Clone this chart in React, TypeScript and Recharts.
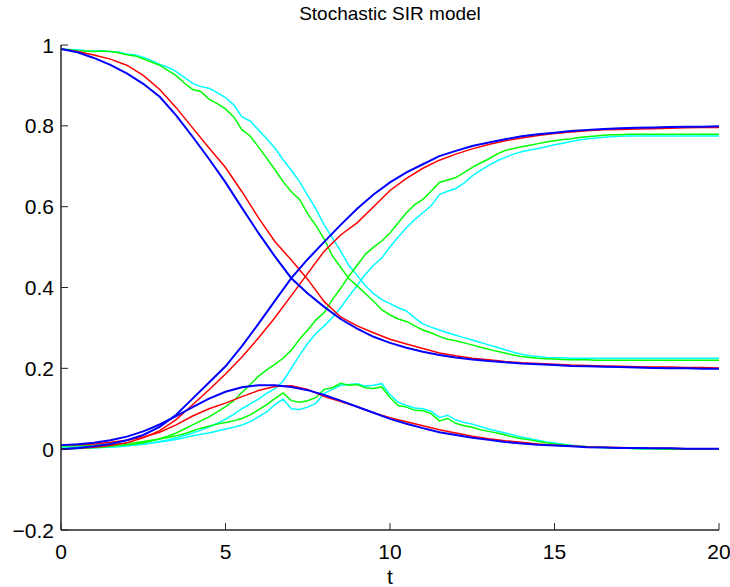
import React from "react";
import { LineChart, Line, XAxis, YAxis } from "recharts";

const TITLE = "Stochastic SIR model";
const X_LABEL = "t";
const X_TICKS = [0, 5, 10, 15, 20];
const Y_TICKS = [-0.2, 0, 0.2, 0.4, 0.6, 0.8, 1];

const T_COARSE = [0, 0.5, 1, 1.5, 2, 2.5, 3, 3.5, 4, 4.5, 5, 5.5, 6, 6.5, 7, 7.5, 8, 8.5, 9, 9.5, 10, 10.5, 11, 11.5, 12, 12.5, 13, 13.5, 14, 14.5, 15, 15.5, 16, 16.5, 17, 17.5, 18, 18.5, 19, 19.5, 20];
const T_FINE = [0, 0.25, 0.5, 0.75, 1, 1.25, 1.5, 1.75, 2, 2.25, 2.5, 2.75, 3, 3.25, 3.5, 3.75, 4, 4.25, 4.5, 4.75, 5, 5.25, 5.5, 5.75, 6, 6.25, 6.5, 6.75, 7, 7.25, 7.5, 7.75, 8, 8.25, 8.5, 8.75, 9, 9.25, 9.5, 9.75, 10, 10.25, 10.5, 10.75, 11, 11.25, 11.5, 11.75, 12, 12.25, 12.5, 12.75, 13, 13.25, 13.5, 13.75, 14, 14.25, 14.5, 14.75, 15, 15.25, 15.5, 15.75, 16, 16.25, 16.5, 16.75, 17, 17.25, 17.5, 17.75, 18, 18.25, 18.5, 18.75, 19, 19.25, 19.5, 19.75, 20];

// Blue (deterministic) — coarse grid
const BLUE_S = [0.99, 0.982, 0.968, 0.951, 0.93, 0.904, 0.872, 0.826, 0.773, 0.718, 0.66, 0.597, 0.535, 0.477, 0.423, 0.385, 0.352, 0.322, 0.298, 0.278, 0.263, 0.251, 0.241, 0.233, 0.227, 0.222, 0.218, 0.215, 0.212, 0.21, 0.208, 0.206, 0.205, 0.204, 0.203, 0.202, 0.201, 0.2, 0.2, 0.199, 0.199];
const BLUE_I = [0.01, 0.012, 0.016, 0.022, 0.031, 0.044, 0.061, 0.082, 0.104, 0.125, 0.142, 0.153, 0.158, 0.158, 0.154, 0.146, 0.134, 0.12, 0.105, 0.09, 0.075, 0.063, 0.052, 0.042, 0.035, 0.028, 0.023, 0.018, 0.014, 0.011, 0.009, 0.007, 0.005, 0.004, 0.003, 0.003, 0.002, 0.002, 0.001, 0.001, 0.001];
const BLUE_R = [0, 0.003, 0.007, 0.013, 0.022, 0.035, 0.055, 0.085, 0.125, 0.165, 0.205, 0.255, 0.31, 0.367, 0.423, 0.47, 0.513, 0.555, 0.595, 0.63, 0.66, 0.685, 0.705, 0.725, 0.738, 0.75, 0.759, 0.767, 0.774, 0.779, 0.783, 0.787, 0.79, 0.792, 0.794, 0.795, 0.796, 0.797, 0.798, 0.798, 0.799];

// Red — coarse grid
const RED_S = [0.99, 0.984, 0.975, 0.965, 0.95, 0.925, 0.89, 0.845, 0.795, 0.745, 0.697, 0.637, 0.573, 0.514, 0.468, 0.42, 0.365, 0.327, 0.305, 0.288, 0.272, 0.26, 0.249, 0.238, 0.231, 0.225, 0.221, 0.217, 0.214, 0.212, 0.21, 0.208, 0.207, 0.206, 0.205, 0.204, 0.203, 0.203, 0.202, 0.202, 0.201];
const RED_I = [0.01, 0.011, 0.013, 0.017, 0.022, 0.03, 0.042, 0.06, 0.082, 0.1, 0.114, 0.13, 0.145, 0.155, 0.157, 0.148, 0.13, 0.118, 0.105, 0.09, 0.078, 0.068, 0.058, 0.048, 0.04, 0.032, 0.026, 0.021, 0.017, 0.013, 0.01, 0.008, 0.006, 0.005, 0.004, 0.003, 0.002, 0.002, 0.001, 0.001, 0.001];
const RED_R = [0, 0.002, 0.005, 0.009, 0.016, 0.028, 0.046, 0.073, 0.11, 0.147, 0.186, 0.228, 0.275, 0.325, 0.38, 0.435, 0.49, 0.53, 0.56, 0.6, 0.64, 0.67, 0.695, 0.715, 0.73, 0.743, 0.754, 0.763, 0.77, 0.776, 0.781, 0.785, 0.788, 0.79, 0.791, 0.792, 0.793, 0.794, 0.795, 0.796, 0.796];

// Green — fine grid
const GREEN_S = [0.99, 0.988, 0.986, 0.985, 0.984, 0.985, 0.984, 0.981, 0.976, 0.973, 0.966, 0.958, 0.95, 0.937, 0.924, 0.906, 0.89, 0.885, 0.866, 0.855, 0.842, 0.822, 0.79, 0.775, 0.748, 0.72, 0.692, 0.662, 0.637, 0.618, 0.582, 0.553, 0.52, 0.478, 0.45, 0.422, 0.404, 0.385, 0.366, 0.345, 0.332, 0.322, 0.316, 0.305, 0.295, 0.288, 0.279, 0.272, 0.268, 0.263, 0.258, 0.252, 0.247, 0.242, 0.238, 0.233, 0.229, 0.227, 0.225, 0.224, 0.223, 0.222, 0.221, 0.221, 0.221, 0.22, 0.22, 0.22, 0.22, 0.22, 0.22, 0.22, 0.22, 0.22, 0.22, 0.22, 0.22, 0.22, 0.22, 0.22, 0.22];
const GREEN_I = [0.008, 0.008, 0.009, 0.009, 0.01, 0.011, 0.012, 0.013, 0.015, 0.016, 0.019, 0.022, 0.025, 0.029, 0.033, 0.038, 0.045, 0.052, 0.057, 0.062, 0.066, 0.07, 0.076, 0.085, 0.097, 0.11, 0.125, 0.139, 0.12, 0.116, 0.12, 0.128, 0.148, 0.152, 0.163, 0.158, 0.16, 0.152, 0.15, 0.154, 0.128, 0.108, 0.104, 0.096, 0.095, 0.088, 0.07, 0.076, 0.064, 0.058, 0.054, 0.048, 0.044, 0.04, 0.035, 0.03, 0.026, 0.023, 0.019, 0.016, 0.013, 0.011, 0.009, 0.007, 0.006, 0.005, 0.004, 0.003, 0.002, 0.002, 0.001, 0.001, 0.001, 0, 0, 0, 0, 0, 0, 0, 0];
const GREEN_R = [0, 0.001, 0.002, 0.003, 0.004, 0.005, 0.007, 0.009, 0.011, 0.013, 0.016, 0.02, 0.026, 0.032, 0.04, 0.05, 0.06, 0.07, 0.08, 0.092, 0.105, 0.12, 0.14, 0.16, 0.18, 0.196, 0.21, 0.225, 0.245, 0.272, 0.295, 0.32, 0.338, 0.37, 0.398, 0.428, 0.455, 0.482, 0.5, 0.515, 0.535, 0.56, 0.585, 0.605, 0.618, 0.638, 0.66, 0.666, 0.672, 0.684, 0.697, 0.708, 0.718, 0.73, 0.739, 0.744, 0.748, 0.752, 0.756, 0.76, 0.763, 0.766, 0.768, 0.771, 0.773, 0.775, 0.777, 0.778, 0.778, 0.779, 0.779, 0.779, 0.779, 0.779, 0.779, 0.779, 0.779, 0.779, 0.779, 0.779, 0.779];

// Cyan — fine grid
const CYAN_S = [0.99, 0.989, 0.988, 0.986, 0.985, 0.986, 0.984, 0.982, 0.978, 0.975, 0.97, 0.962, 0.952, 0.945, 0.934, 0.92, 0.905, 0.897, 0.893, 0.882, 0.87, 0.852, 0.822, 0.812, 0.79, 0.768, 0.745, 0.716, 0.69, 0.662, 0.628, 0.594, 0.555, 0.522, 0.49, 0.455, 0.43, 0.405, 0.385, 0.37, 0.36, 0.35, 0.342, 0.325, 0.31, 0.302, 0.295, 0.288, 0.282, 0.276, 0.27, 0.264, 0.258, 0.252, 0.246, 0.24, 0.235, 0.231, 0.229, 0.227, 0.226, 0.226, 0.225, 0.225, 0.225, 0.225, 0.225, 0.225, 0.225, 0.225, 0.225, 0.225, 0.225, 0.225, 0.225, 0.225, 0.225, 0.225, 0.225, 0.225, 0.225];
const CYAN_I = [0.005, 0.005, 0.006, 0.006, 0.007, 0.007, 0.008, 0.009, 0.01, 0.011, 0.013, 0.015, 0.018, 0.021, 0.024, 0.028, 0.033, 0.037, 0.04, 0.045, 0.05, 0.054, 0.06, 0.068, 0.08, 0.092, 0.11, 0.124, 0.1, 0.098, 0.104, 0.114, 0.138, 0.148, 0.158, 0.16, 0.162, 0.156, 0.158, 0.162, 0.135, 0.116, 0.108, 0.102, 0.1, 0.094, 0.078, 0.084, 0.072, 0.066, 0.062, 0.056, 0.05, 0.045, 0.04, 0.035, 0.03, 0.026, 0.022, 0.018, 0.015, 0.012, 0.01, 0.008, 0.006, 0.005, 0.004, 0.003, 0.002, 0.002, 0.001, 0.001, 0.001, 0, 0, 0, 0, 0, 0, 0, 0];
const CYAN_R = [0, 0.001, 0.001, 0.002, 0.003, 0.004, 0.005, 0.006, 0.008, 0.01, 0.012, 0.015, 0.019, 0.023, 0.028, 0.034, 0.04, 0.047, 0.055, 0.064, 0.074, 0.086, 0.1, 0.112, 0.124, 0.138, 0.15, 0.168, 0.2, 0.232, 0.262, 0.286, 0.305, 0.326, 0.35, 0.378, 0.405, 0.432, 0.455, 0.473, 0.5, 0.525, 0.548, 0.568, 0.585, 0.602, 0.63, 0.638, 0.645, 0.658, 0.676, 0.69, 0.702, 0.713, 0.722, 0.73, 0.736, 0.74, 0.744, 0.748, 0.753, 0.757, 0.761, 0.765, 0.768, 0.77, 0.772, 0.773, 0.774, 0.775, 0.775, 0.775, 0.775, 0.775, 0.775, 0.775, 0.775, 0.775, 0.775, 0.775, 0.775];

const toPoints = (ts: number[], vs: number[]) => ts.map((t, i) => ({ t, v: vs[i] }));

const SERIES = [
  { key: "cyanS", color: "#00ffff", width: 1.5, data: toPoints(T_FINE, CYAN_S) },
  { key: "cyanI", color: "#00ffff", width: 1.5, data: toPoints(T_FINE, CYAN_I) },
  { key: "cyanR", color: "#00ffff", width: 1.5, data: toPoints(T_FINE, CYAN_R) },
  { key: "greenS", color: "#00ff00", width: 1.5, data: toPoints(T_FINE, GREEN_S) },
  { key: "greenI", color: "#00ff00", width: 1.5, data: toPoints(T_FINE, GREEN_I) },
  { key: "greenR", color: "#00ff00", width: 1.5, data: toPoints(T_FINE, GREEN_R) },
  { key: "redS", color: "#ff0000", width: 1.5, data: toPoints(T_COARSE, RED_S) },
  { key: "redI", color: "#ff0000", width: 1.5, data: toPoints(T_COARSE, RED_I) },
  { key: "redR", color: "#ff0000", width: 1.5, data: toPoints(T_COARSE, RED_R) },
  { key: "blueS", color: "#0000ff", width: 2, data: toPoints(T_COARSE, BLUE_S) },
  { key: "blueI", color: "#0000ff", width: 2, data: toPoints(T_COARSE, BLUE_I) },
  { key: "blueR", color: "#0000ff", width: 2, data: toPoints(T_COARSE, BLUE_R) },
];

const FONT = "'Liberation Sans', Arial, Helvetica, sans-serif";
const AXIS_COLOR = "#262626";
const TICK_LEN = 7;
const FONT_SIZE = 21;

const fmtY = (v: number) => {
  const s = String(Math.round(v * 10) / 10);
  return s.startsWith("-") ? "\u2212" + s.slice(1) : s;
};

const YTick = (props: any) => {
  const { x, y, payload } = props;
  return (
    <g>
      <line x1={x} y1={y} x2={x + TICK_LEN} y2={y} stroke={AXIS_COLOR} strokeWidth={1} />
      <text x={x - 7} y={y} dy="0.36em" textAnchor="end" fontSize={FONT_SIZE} fontFamily={FONT} fill="#000">
        {fmtY(payload.value)}
      </text>
    </g>
  );
};

const XTick = (props: any) => {
  const { x, y, payload } = props;
  return (
    <g>
      <line x1={x} y1={y} x2={x} y2={y - TICK_LEN} stroke={AXIS_COLOR} strokeWidth={1} />
      <text x={x} y={y + 29} textAnchor="middle" fontSize={FONT_SIZE} fontFamily={FONT} fill="#000">
        {String(payload.value)}
      </text>
    </g>
  );
};

export default function App() {
  return (
    <div style={{ position: "absolute", left: 0, top: 0, width: 730, height: 587, background: "#fff" }}>
      <LineChart width={730} height={587} margin={{ top: 45, right: 11, bottom: 0, left: 0 }}>
        <XAxis
          type="number"
          dataKey="t"
          domain={[0, 20]}
          ticks={X_TICKS}
          allowDuplicatedCategory={false}
          height={57}
          tickSize={0}
          tickMargin={0}
          tickLine={false}
          axisLine={{ stroke: AXIS_COLOR, strokeWidth: 1.5 }}
          tick={<XTick />}
          interval={0}
        />
        <YAxis
          type="number"
          domain={[-0.2, 1]}
          ticks={Y_TICKS}
          width={61}
          tickSize={0}
          tickMargin={0}
          tickLine={false}
          axisLine={{ stroke: AXIS_COLOR, strokeWidth: 1.5 }}
          tick={<YTick />}
          interval={0}
          allowDataOverflow
        />
        {SERIES.map((s) => (
          <Line
            key={s.key}
            data={s.data}
            dataKey="v"
            type="linear"
            stroke={s.color}
            strokeWidth={s.width}
            dot={false}
            activeDot={false}
            isAnimationActive={false}
          />
        ))}
      </LineChart>
      <svg width={730} height={587} style={{ position: "absolute", left: 0, top: 0, pointerEvents: "none" }}>
        <text x={390} y={20} textAnchor="middle" fontSize={19} fontFamily={FONT} fill="#000">
          {TITLE}
        </text>
        <text x={390} y={584} textAnchor="middle" fontSize={FONT_SIZE} fontFamily={FONT} fill="#000">
          {X_LABEL}
        </text>
      </svg>
    </div>
  );
}
